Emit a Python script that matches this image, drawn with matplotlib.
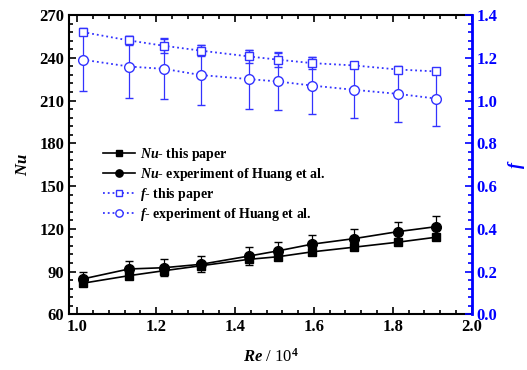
import numpy as np
import matplotlib
matplotlib.use('Agg')
import matplotlib.pyplot as plt
from matplotlib.ticker import MultipleLocator

plt.rcParams['font.family'] = 'Liberation Serif'
plt.rcParams['font.weight'] = 'bold'
plt.rcParams['mathtext.fontset'] = 'custom'
plt.rcParams['mathtext.it'] = 'Liberation Serif:bold:italic'
plt.rcParams['mathtext.rm'] = 'Liberation Serif:bold'
plt.rcParams['mathtext.bf'] = 'Liberation Serif:bold'

# Re / 10^4
re = [1.014, 1.131, 1.220, 1.314, 1.436, 1.509, 1.595, 1.702, 1.813, 1.910]

# Nusselt number
nu_paper = [81.8, 87.1, 90.6, 94.1, 98.6, 100.4, 103.8, 107.1, 110.6, 114.1]
nu_huang = [84.8, 91.8, 92.7, 95.1, 100.9, 104.5, 109.2, 113.1, 118.0, 121.5]
nu_huang_err = [4.7, 5.6, 5.9, 5.6, 6.1, 6.5, 6.3, 6.6, 6.8, 7.5]

# friction factor
f_paper = [1.320, 1.281, 1.256, 1.233, 1.206, 1.191, 1.175, 1.164, 1.145, 1.136]
f_paper_err = [0.015, 0.022, 0.036, 0.027, 0.031, 0.036, 0.028, 0.014, 0.010, 0.011]
f_huang = [1.191, 1.159, 1.148, 1.119, 1.100, 1.089, 1.070, 1.050, 1.031, 1.009]
f_huang_err = [0.148, 0.145, 0.142, 0.140, 0.138, 0.134, 0.134, 0.132, 0.130, 0.126]

blue = '#0000ff'
mblue = '#3333ff'

fig = plt.figure(figsize=(5.27, 3.70), dpi=100)
ax = fig.add_axes([0.1315, 0.1505, 0.7635, 0.809])
ax2 = ax.twinx()

# Nu curves (left axis)
l1, = ax.plot(re, nu_paper, 's-', color='black', ms=6, lw=1.2, label=r'$Nu$- this paper')
ax.errorbar(re, nu_huang, yerr=nu_huang_err, fmt='none', ecolor='black', elinewidth=0.9, capsize=3)
l2, = ax.plot(re, nu_huang, 'o-', color='black', ms=7, lw=1.2, label=r'$Nu$- experiment of Huang et al.')

# f curves (right axis)
ax2.errorbar(re, f_paper, yerr=f_paper_err, fmt='none', ecolor=mblue, elinewidth=0.9, capsize=3)
ax2.errorbar(re, f_huang, yerr=f_huang_err, fmt='none', ecolor=mblue, elinewidth=0.9, capsize=3)
l3, = ax2.plot(re, f_paper, 's:', color=mblue, mfc='white', mec=mblue, ms=6, lw=1.3,
               label=r'$f$- this paper')
l4, = ax2.plot(re, f_huang, 'o:', color=mblue, mfc='white', mec=mblue, ms=7, lw=1.3,
               label=r'$f$- experiment of Huang et al.')

ax.set_xlim(0.98, 2.0)
ax.set_ylim(60, 270)
ax2.set_ylim(0, 1.4)

ax.xaxis.set_major_locator(MultipleLocator(0.2))
ax.xaxis.set_minor_locator(MultipleLocator(0.04))
ax.yaxis.set_major_locator(MultipleLocator(30))
ax.yaxis.set_minor_locator(MultipleLocator(6))
ax2.yaxis.set_major_locator(MultipleLocator(0.2))
ax2.yaxis.set_minor_locator(MultipleLocator(0.04))
ax.xaxis.set_major_formatter(matplotlib.ticker.FormatStrFormatter('%.1f'))
ax2.yaxis.set_major_formatter(matplotlib.ticker.FormatStrFormatter('%.1f'))

ax.tick_params(which='both', direction='in', top=True, right=False, labelsize=12, width=1.2)
ax.tick_params(which='major', length=5)
ax.tick_params(which='minor', length=3)
ax2.tick_params(which='both', direction='in', colors=blue, labelsize=12, width=1.2)
ax2.tick_params(which='major', length=5)
ax2.tick_params(which='minor', length=3)

for s in ['left', 'bottom', 'top']:
    ax.spines[s].set_linewidth(1.5)
ax2.spines['right'].set_color(blue)
ax2.spines['right'].set_linewidth(2)
ax2.spines['left'].set_visible(False)
ax2.spines['top'].set_visible(False)
ax2.spines['bottom'].set_visible(False)

ax.set_ylabel(r'$Nu$', fontsize=12, labelpad=6)
ax2.set_ylabel(r'$f$', fontsize=13, color=blue, labelpad=6)
ax.set_xlabel(r'$Re$ / 10$^4$', fontsize=12, labelpad=9)

ax2.legend(handles=[l1, l2, l3, l4], loc='upper left', bbox_to_anchor=(0.07, 0.58),
           frameon=False, fontsize=10, handlelength=2.3, handletextpad=0.35,
           labelspacing=0.2, borderaxespad=0, markerscale=0.75)

fig.savefig('out.png', dpi=100)
